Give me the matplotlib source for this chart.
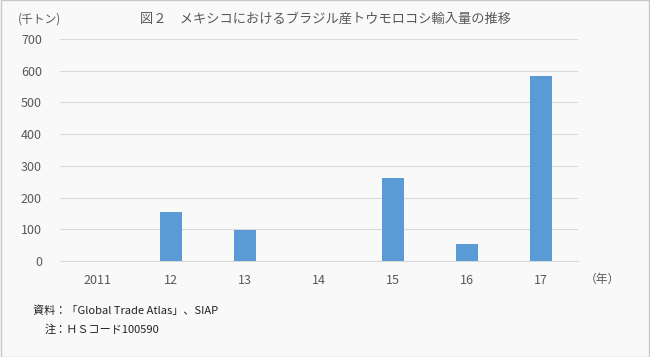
import matplotlib
matplotlib.use("Agg")
import matplotlib.pyplot as plt
import numpy as np

plt.rcParams['font.family'] = ['Noto Sans CJK JP', 'DejaVu Sans']

categories = ["2011", "12", "13", "14", "15", "16", "17"]
values = [0, 155, 98, 0, 261, 54, 582]
yticks = [0, 100, 200, 300, 400, 500, 600, 700]

title = "図２　メキシコにおけるブラジル産トウモロコシ輸入量の推移"
unit_label = "(千トン)"
x_unit = "（年）"
note1 = "資料：「Global Trade Atlas」、SIAP"
note2 = "注：ＨＳコード100590"

W, H = 650, 357
fig = plt.figure(figsize=(W / 100, H / 100), dpi=100)
fig.patch.set_facecolor("#f9f9f9")

# border
fig.add_artist(plt.Rectangle((0.0008, 0.0014), 0.9984, 0.9972, transform=fig.transFigure,
                             fill=False, edgecolor="#c8c8c8", linewidth=1.0))

left, right = 60 / W, 578 / W
bottom, top = 1 - 261 / H, 1 - 39 / H
ax = fig.add_axes([left, bottom, right - left, top - bottom])
ax.set_facecolor("none")

x = np.arange(len(categories))
ax.bar(x, values, width=0.31, color="#5b9bd5", zorder=3)
ax.set_xlim(-0.5, len(categories) - 0.5)
ax.set_ylim(0, 700)
ax.set_yticks(yticks)
ax.set_xticks(x)
ax.set_xticklabels(categories)
ax.grid(axis="y", color="#d9d9d9", linewidth=0.8, zorder=0)
for s in ["top", "right", "left"]:
    ax.spines[s].set_visible(False)
ax.spines["bottom"].set_color("#d9d9d9")
ax.spines["bottom"].set_linewidth(0.8)
ax.tick_params(axis="both", length=0, colors="#595959", labelsize=9)
ax.tick_params(axis="y", pad=13)
ax.tick_params(axis="x", pad=9)

fig.text(325 / W, 1 - 19 / H, title, ha="center", va="center", fontsize=9.5, color="#595959")
fig.text(18 / W, 1 - 19 / H, unit_label, ha="left", va="center", fontsize=8.5, color="#595959")
fig.text(585 / W, 1 - 279 / H, x_unit, ha="left", va="center", fontsize=8.5, color="#595959")
fig.text(33 / W, 1 - 311 / H, note1, ha="left", va="center", fontsize=8, color="#222222")
fig.text(45 / W, 1 - 330 / H, note2, ha="left", va="center", fontsize=8, color="#222222")

fig.savefig("out.png", dpi=100, facecolor=fig.get_facecolor())
